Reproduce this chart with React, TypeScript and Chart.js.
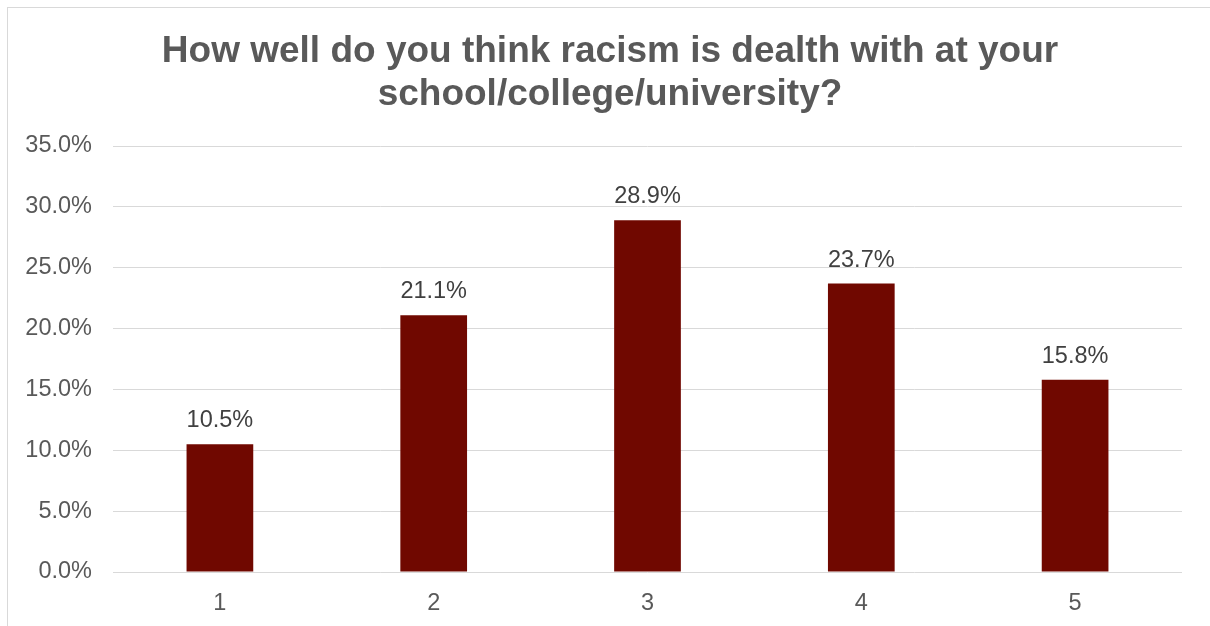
import React, { useEffect, useRef } from "react";
import { Chart, registerables } from "chart.js";

Chart.register(...registerables);

const titleLines = ["How well do you think racism is dealth with at your", "school/college/university?"];
const categories = ["1", "2", "3", "4", "5"];
const values = [10.5, 21.1, 28.9, 23.7, 15.8];
const yMin = 0;
const yMax = 35;
const yStep = 5;

const FONT = "'Liberation Sans', Arial, sans-serif";

const titlePlugin = {
  id: "customTitle",
  afterDraw(chart: any) {
    const ctx = chart.ctx;
    ctx.save();
    ctx.fillStyle = "#595959";
    ctx.font = `bold 37px ${FONT}`;
    ctx.textAlign = "center";
    ctx.textBaseline = "alphabetic";
    ctx.fillText(titleLines[0], 610, 62);
    ctx.fillText(titleLines[1], 610, 105);
    ctx.restore();
  },
};

const labelPlugin = {
  id: "dataLabels",
  afterDatasetsDraw(chart: any) {
    const ctx = chart.ctx;
    const meta = chart.getDatasetMeta(0);
    ctx.save();
    ctx.fillStyle = "#404040";
    ctx.font = `23.5px ${FONT}`;
    ctx.textAlign = "center";
    ctx.textBaseline = "alphabetic";
    meta.data.forEach((bar: any, i: number) => {
      ctx.fillText(values[i].toFixed(1) + "%", bar.x, bar.y - 17);
    });
    ctx.restore();
  },
};

export default function App() {
  const ref = useRef<HTMLCanvasElement>(null);
  useEffect(() => {
    if (!ref.current) return;
    const chart = new Chart(ref.current, {
      type: "bar",
      data: {
        labels: categories,
        datasets: [
          {
            data: values,
            backgroundColor: "#700800",
            borderWidth: 0,
            categoryPercentage: 1,
            barPercentage: 0.312,
          },
        ],
      },
      options: {
        animation: false,
        responsive: false,
        maintainAspectRatio: false,
        layout: { padding: { left: 0, right: 28, top: 146, bottom: 0 } },
        plugins: {
          legend: { display: false },
          title: { display: false },
          tooltip: { enabled: false },
        },
        scales: {
          x: {
            grid: { display: false, drawTicks: false },
            border: { display: false },
            ticks: {
              color: "#595959",
              font: { family: FONT, size: 23.5 },
              padding: 17,
            },
            afterFit: (s: any) => {
              s.height = 54;
            },
          },
          y: {
            min: yMin,
            max: yMax,
            grid: { color: "#d9d9d9", lineWidth: 1, drawTicks: false },
            border: { display: false },
            ticks: {
              stepSize: yStep,
              color: "#595959",
              font: { family: FONT, size: 23.5 },
              padding: 21,
              callback: (v: any) => Number(v).toFixed(1) + "%",
            },
            afterFit: (s: any) => {
              s.width = 113;
            },
          },
        },
      },
      plugins: [titlePlugin, labelPlugin],
    });
    return () => chart.destroy();
  }, []);

  return (
    <div style={{ position: "fixed", left: 0, top: 0, width: 1210, height: 626, overflow: "hidden", background: "#fff" }}>
      <div
        style={{
          position: "absolute",
          left: 7,
          top: 7,
          width: 1300,
          height: 700,
          borderLeft: "1px solid #d9d9d9",
          borderTop: "1px solid #d9d9d9",
        }}
      />
      <canvas ref={ref} width={1210} height={626} style={{ position: "absolute", left: 0, top: 0, display: "block" }} />
    </div>
  );
}
